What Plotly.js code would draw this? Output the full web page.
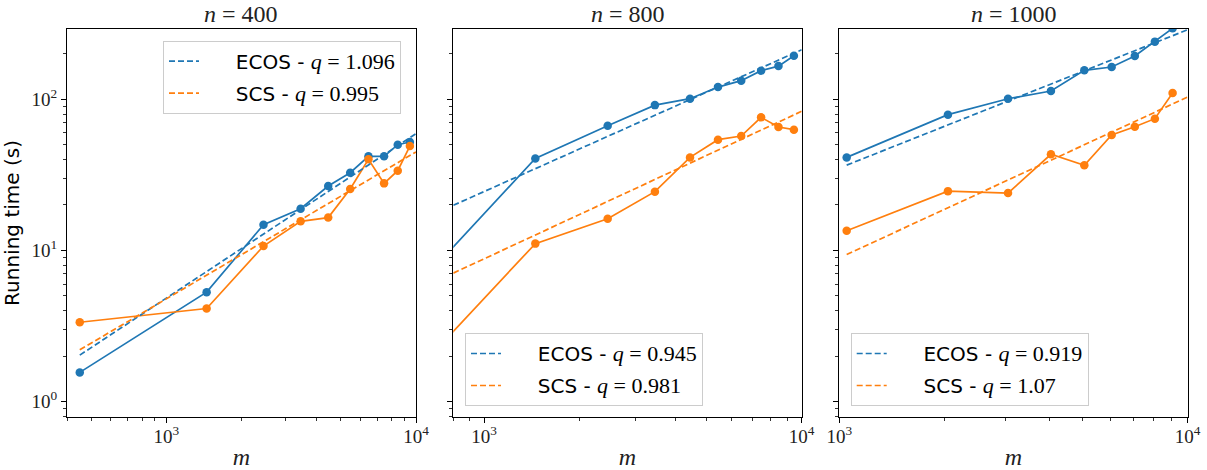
<!DOCTYPE html>
<html><head><meta charset="utf-8">
<script src="https://cdn.plot.ly/plotly-3.0.1.min.js"></script>
<style>html,body{margin:0;padding:0;background:#fff}</style>
</head><body><div id="chart" style="width:1207px;height:470px"></div>
<script>
// ---- data ----
const panelTitles = ['400', '800', '1000'];

const m400 = [450, 1450, 2450, 3450, 4450, 5450, 6450, 7450, 8450, 9450];
const ecos400 = [1.56, 5.3, 14.8, 18.9, 26.7, 32.7, 42.0, 42.0, 50.1, 52.2];
const scs400 = [3.35, 4.13, 10.7, 15.6, 16.5, 25.5, 40.1, 27.8, 33.7, 49.1];
const fitM400 = [450, 10000];
const ecosFit400 = [2.03, 59.3];
const scsFit400 = [2.20, 44.9];

const m800 = [450, 1450, 2450, 3450, 4450, 5450, 6450, 7450, 8450, 9450];
const ecos800 = [2.86, 40.6, 66.8, 91.6, 101, 120.6, 132.9, 154.9, 166, 194.5];
const scs800 = [0.80, 11.1, 16.2, 24.5, 41.3, 54.1, 57.2, 76.0, 65.6, 63.0];
const fitM800 = [800, 10000];
const ecosFit800 = [19.9, 213];
const scsFit800 = [7.08, 83.4];

const m1000 = [1050, 2050, 3050, 4050, 5050, 6050, 7050, 8050, 9050];
const ecos1000 = [41.3, 79.2, 101, 113.6, 155.7, 163.8, 193.8, 241, 295];
const scs1000 = [13.5, 24.7, 24.0, 43.3, 36.6, 58.1, 65.9, 74.5, 110];
const fitM1000 = [1050, 10000];
const ecosFit1000 = [36.7, 289];
const scsFit1000 = [9.40, 103.6];

const qEcos = ['1.096', '0.945', '0.919'];
const qScs = ['0.995', '0.981', '1.07'];

// ---- styling ----
const BLUE = '#1f77b4', ORANGE = '#ff7f0e';
const SERIF = 'Liberation Serif';
const SANS = 'DejaVu Sans';
const NB = '\u00A0';

const panels = [
  {m: m400, e: ecos400, s: scs400, fm: fitM400, fe: ecosFit400, fs: scsFit400},
  {m: m800, e: ecos800, s: scs800, fm: fitM800, fe: ecosFit800, fs: scsFit800},
  {m: m1000, e: ecos1000, s: scs1000, fm: fitM1000, fe: ecosFit1000, fs: scsFit1000}
];

function label(name, q) {
  return NB + NB + NB + NB + NB + name + ' - ' +
    "<span style='font-family:" + SERIF + ";font-size:22px'><i>q</i> = " + q + '</span>';
}

const traces = [];
panels.forEach((p, i) => {
  const xa = i === 0 ? 'x' : 'x' + (i + 1);
  const ya = i === 0 ? 'y' : 'y' + (i + 1);
  const lg = i === 0 ? 'legend' : 'legend' + (i + 1);
  traces.push({x: p.m, y: p.e, xaxis: xa, yaxis: ya, mode: 'lines+markers', showlegend: false,
    line: {color: BLUE, width: 1.7}, marker: {color: BLUE, size: 8.5}, hoverinfo: 'skip'});
  traces.push({x: p.m, y: p.s, xaxis: xa, yaxis: ya, mode: 'lines+markers', showlegend: false,
    line: {color: ORANGE, width: 1.7}, marker: {color: ORANGE, size: 8.5}, hoverinfo: 'skip'});
  traces.push({x: p.fm, y: p.fe, xaxis: xa, yaxis: ya, mode: 'lines', legend: lg, legendgroup: 'e' + i,
    name: label('ECOS', qEcos[i]), line: {color: BLUE, width: 1.7, dash: '6px,3px'}, hoverinfo: 'skip'});
  traces.push({x: p.fm, y: p.fs, xaxis: xa, yaxis: ya, mode: 'lines', legend: lg, legendgroup: 's' + i,
    name: label('SCS', qScs[i]), line: {color: ORANGE, width: 1.7, dash: '6px,3px'}, hoverinfo: 'skip'});
});

const minorVals = [];
for (let d = -1; d <= 4; d++) for (let k = 2; k <= 9; k++) minorVals.push(k * Math.pow(10, d));

const W = 1207;
const xDomains = [[67 / W, 416 / W], [453.3 / W, 801.7 / W], [839.3 / W, 1187.7 / W]];
const xRanges = [[Math.log10(400), 4], [Math.log10(800), 4], [3, 4]];

function xaxis(i) {
  return {
    type: 'log', domain: xDomains[i], range: xRanges[i], anchor: i === 0 ? 'y' : 'y' + (i + 1),
    showgrid: false, zeroline: false, showline: true, mirror: true, linecolor: '#000', linewidth: 1,
    ticks: 'outside', ticklen: 5, tickwidth: 1, tickcolor: '#000', ticklabelstandoff: -3,
    tickmode: 'array', tickvals: [100, 1000, 10000],
    ticktext: ['10<sup>2</sup>', '10<sup>3</sup>', '10<sup>4</sup>'],
    tickfont: {family: SERIF, size: 19, color: '#222'},
    minor: {tickmode: 'array', tickvals: minorVals, ticks: 'outside', ticklen: 3, tickwidth: 0.8, tickcolor: '#000', showgrid: false},
    title: {text: '<i>m</i>', font: {family: SERIF, size: 24, color: '#222'}, standoff: 5}
  };
}
function yaxis(i) {
  return {
    type: 'log', domain: [0, 1], range: [-0.102, 2.4656], anchor: i === 0 ? 'x' : 'x' + (i + 1),
    matches: i === 0 ? undefined : 'y',
    showgrid: false, zeroline: false, showline: true, mirror: true, linecolor: '#000', linewidth: 1,
    ticks: 'outside', ticklen: 5, tickwidth: 1, tickcolor: '#000',
    tickmode: 'array', tickvals: [1, 10, 100],
    ticktext: ['10<sup>0</sup>', '10<sup>1</sup>', '10<sup>2</sup>'],
    showticklabels: i === 0,
    tickfont: {family: SERIF, size: 19, color: '#222'},
    minor: {tickmode: 'array', tickvals: minorVals, ticks: 'outside', ticklen: 3, tickwidth: 0.8, tickcolor: '#000', showgrid: false},
    title: i === 0 ? {text: 'Running time (s)', font: {family: SANS, size: 20, color: '#000'}, standoff: 6} : undefined
  };
}

function legend(x, y) {
  return {x: x, y: y, xanchor: 'left', yanchor: 'top', xref: 'paper', yref: 'paper',
    bgcolor: 'rgba(255,255,255,0.85)', bordercolor: '#cccccc', borderwidth: 1,
    font: {family: SANS, size: 20, color: '#000'}, traceorder: 'grouped', tracegroupgap: 3};
}

const layout = {
  width: 1207, height: 470,
  margin: {l: 0, r: 0, t: 29, b: 53},
  paper_bgcolor: '#fff', plot_bgcolor: '#fff',
  xaxis: xaxis(0), xaxis2: xaxis(1), xaxis3: xaxis(2),
  yaxis: yaxis(0), yaxis2: yaxis(1), yaxis3: yaxis(2),
  legend: legend(163 / W, 0.97),
  legend2: legend(465 / W, 0.2165),
  legend3: legend(850.7 / W, 0.2165),
  annotations: panelTitles.map((t, i) => ({
    text: '<i>n</i> = ' + t, xref: 'paper', yref: 'paper',
    x: (xDomains[i][0] + xDomains[i][1]) / 2, y: 1, xanchor: 'center', yanchor: 'bottom',
    yshift: 0, showarrow: false, font: {family: SERIF, size: 24, color: '#222'}
  }))
};

Plotly.newPlot('chart', traces, layout, {displayModeBar: false, staticPlot: true});
</script></body></html>
